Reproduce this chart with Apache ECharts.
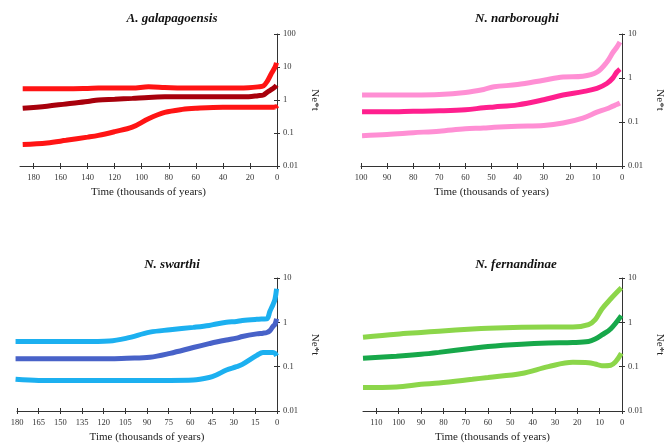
<!DOCTYPE html>
<html>
<head>
<meta charset="utf-8">
<script src="https://cdn.jsdelivr.net/npm/echarts@6/dist/echarts.min.js"></script>
<style>
html,body{margin:0;padding:0;background:#fff;}
#chart{width:671px;height:445px;}
</style>
</head>
<body>
<div id="chart"></div>
<script>
// ---- Data (Time in thousands of years, Ne*t values) ----
const titles = ['A. galapagoensis', 'N. narboroughi', 'N. swarthi', 'N. fernandinae'];
const xTicksGal = [0, 20, 40, 60, 80, 100, 120, 140, 160, 180];
const xTicksNar = [0, 10, 20, 30, 40, 50, 60, 70, 80, 90, 100];
const xTicksSwa = [0, 15, 30, 45, 60, 75, 90, 105, 120, 135, 150, 165, 180];
const xTicksFer = [0, 10, 20, 30, 40, 50, 60, 70, 80, 90, 100, 110];

const galTime   = [188, 170, 156, 140, 132, 120, 107, 95, 83, 70, 60, 40, 21, 14, 10, 7, 4, 2, 1, 0.4];
const galUpper  = [2.2, 2.2, 2.2, 2.25, 2.3, 2.3, 2.3, 2.5, 2.4, 2.3, 2.3, 2.3, 2.35, 2.5, 2.7, 3.8, 6.5, 9, 11, 13.5];
const galMedian = [0.56, 0.65, 0.76, 0.9, 1.0, 1.05, 1.12, 1.2, 1.25, 1.26, 1.26, 1.26, 1.26, 1.35, 1.42, 1.75, 2.1, 2.4, 2.6, 2.8];
const galLower  = [0.045, 0.05, 0.06, 0.075, 0.085, 0.11, 0.15, 0.27, 0.42, 0.52, 0.56, 0.6, 0.6, 0.6, 0.6, 0.6, 0.6, 0.6, 0.62, 0.55];

const narTime   = [99.6, 90, 80, 70, 60, 53, 49, 40, 30, 22.6, 15, 9.6, 5.8, 3.5, 2, 0.8];
const narUpper  = [0.41, 0.41, 0.41, 0.42, 0.47, 0.55, 0.63, 0.71, 0.89, 1.05, 1.1, 1.36, 2.3, 3.8, 5, 6.6];
const narMedian = [0.17, 0.17, 0.175, 0.18, 0.19, 0.21, 0.22, 0.245, 0.32, 0.41, 0.49, 0.58, 0.75, 1.0, 1.36, 1.6];
const narLower  = [0.049, 0.052, 0.057, 0.062, 0.07, 0.073, 0.076, 0.08, 0.083, 0.095, 0.123, 0.167, 0.2, 0.23, 0.25, 0.27];

const swaTime   = [181, 165, 150, 135, 116, 104, 88, 74, 58, 47, 42, 35, 28, 24, 14, 9.7, 7, 4.9, 2.8, 1.4, 0.3];
const swaUpper  = [0.37, 0.37, 0.37, 0.37, 0.38, 0.44, 0.6, 0.68, 0.77, 0.85, 0.92, 1.0, 1.05, 1.1, 1.17, 1.19, 1.2, 1.78, 2.5, 3.3, 5.7];
const swaMedian = [0.15, 0.15, 0.15, 0.15, 0.15, 0.155, 0.163, 0.2, 0.27, 0.33, 0.36, 0.4, 0.44, 0.48, 0.55, 0.57, 0.59, 0.65, 0.81, 0.9, 1.2];
const swaLower  = [0.052, 0.049, 0.049, 0.049, 0.049, 0.049, 0.049, 0.049, 0.05, 0.057, 0.065, 0.084, 0.1, 0.113, 0.18, 0.21, 0.21, 0.21, 0.21, 0.2, 0.175];

const ferTime   = [116, 101, 90, 82, 67, 60, 45, 33, 22, 15, 12, 9, 5, 0.3];
const ferUpper  = [0.46, 0.54, 0.59, 0.63, 0.71, 0.74, 0.77, 0.78, 0.78, 0.89, 1.15, 2.0, 3.4, 6.0];
const ferMedian = [0.155, 0.172, 0.19, 0.21, 0.26, 0.285, 0.32, 0.34, 0.35, 0.37, 0.42, 0.52, 0.72, 1.42];
const ferLower  = [0.034, 0.035, 0.04, 0.043, 0.052, 0.057, 0.07, 0.1, 0.125, 0.123, 0.115, 0.105, 0.108, 0.2];

// ---- Layout / style ----
const SERIF = '"Liberation Serif", "DejaVu Serif", serif';
const panels = [
  {title: titles[0], time: galTime, up: galUpper, med: galMedian, lo: galLower, ticks: xTicksGal, xmax: 190, ymax: 100,
   grid: {left: 20, top: 34, width: 257, height: 132}, titlePos: [167, 7],
   light: '#ff1414', dark: '#a8000c'},
  {title: titles[1], time: narTime, up: narUpper, med: narMedian, lo: narLower, ticks: xTicksNar, xmax: 100, ymax: 10,
   grid: {left: 361, top: 34, width: 261, height: 132}, titlePos: [512, 7],
   light: '#ff8fd4', dark: '#ff1f8e'},
  {title: titles[2], time: swaTime, up: swaUpper, med: swaMedian, lo: swaLower, ticks: xTicksSwa, xmax: 180, ymax: 10,
   grid: {left: 17, top: 278, width: 260, height: 133}, titlePos: [167, 253],
   light: '#1cb0f0', dark: '#4862c8'},
  {title: titles[3], time: ferTime, up: ferUpper, med: ferMedian, lo: ferLower, ticks: xTicksFer, xmax: 116, ymax: 10,
   grid: {left: 363, top: 278, width: 259, height: 133}, titlePos: [511, 253],
   light: '#8cd64a', dark: '#17a84a'}
];

const option = {animation: false, backgroundColor: '#fff', title: [], grid: [], xAxis: [], yAxis: [], series: []};

panels.forEach((p, i) => {
  option.title.push({
    text: p.title, left: p.titlePos[0], top: p.titlePos[1], textAlign: 'center',
    textStyle: {fontFamily: SERIF, fontSize: 13, fontWeight: 'bold', fontStyle: 'italic', color: '#111'}
  });
  option.grid.push(p.grid);
  const axisLine = {show: true, lineStyle: {color: '#333', width: 1}};
  // primary x axis
  option.xAxis.push({
    type: 'value', gridIndex: i, min: 0, max: p.xmax, inverse: true, position: 'bottom',
    name: 'Time (thousands of years)', nameLocation: 'middle', nameGap: 21,
    nameTextStyle: {fontFamily: SERIF, fontSize: 11, color: '#222'},
    axisLine: axisLine, splitLine: {show: false},
    axisTick: {show: true, inside: false, length: 3, customValues: p.ticks, lineStyle: {color: '#333'}},
    axisLabel: {customValues: p.ticks, fontFamily: SERIF, fontSize: 8.5, color: '#333', margin: 7}
  });
  // secondary x axis (inside ticks -> crossing ticks)
  option.xAxis.push({
    type: 'value', gridIndex: i, min: 0, max: p.xmax, inverse: true, position: 'bottom',
    axisLine: {show: false}, splitLine: {show: false},
    axisTick: {show: true, inside: true, length: 3, customValues: p.ticks, lineStyle: {color: '#333'}},
    axisLabel: {show: false}
  });
  option.yAxis.push({
    type: 'log', logBase: 10, gridIndex: i, min: 0.01, max: p.ymax, position: 'right',
    name: 'Ne*t', nameLocation: 'middle', nameGap: 32, nameRotate: -90,
    nameTextStyle: {fontFamily: SERIF, fontSize: 11, color: '#222'},
    axisLine: axisLine, splitLine: {show: false}, minorTick: {show: false},
    axisTick: {show: true, inside: false, length: 3, lineStyle: {color: '#333'}},
    axisLabel: {fontFamily: SERIF, fontSize: 8.5, color: '#333', margin: 6}
  });
  option.yAxis.push({
    type: 'log', logBase: 10, gridIndex: i, min: 0.01, max: p.ymax, position: 'right',
    axisLine: {show: false}, splitLine: {show: false},
    axisTick: {show: true, inside: true, length: 3, lineStyle: {color: '#333'}},
    axisLabel: {show: false}
  });
  const mk = (vals, color) => ({
    type: 'line', xAxisIndex: 2 * i, yAxisIndex: 2 * i, smooth: 0.35, symbol: 'none',
    lineStyle: {color: color, width: 5}, z: 2,
    data: p.time.map((t, k) => [t, vals[k]])
  });
  option.series.push(mk(p.up, p.light), mk(p.lo, p.light), mk(p.med, p.dark));
});

const chart = echarts.init(document.getElementById('chart'), null, {renderer: 'canvas'});
chart.setOption(option);
</script>
</body>
</html>
